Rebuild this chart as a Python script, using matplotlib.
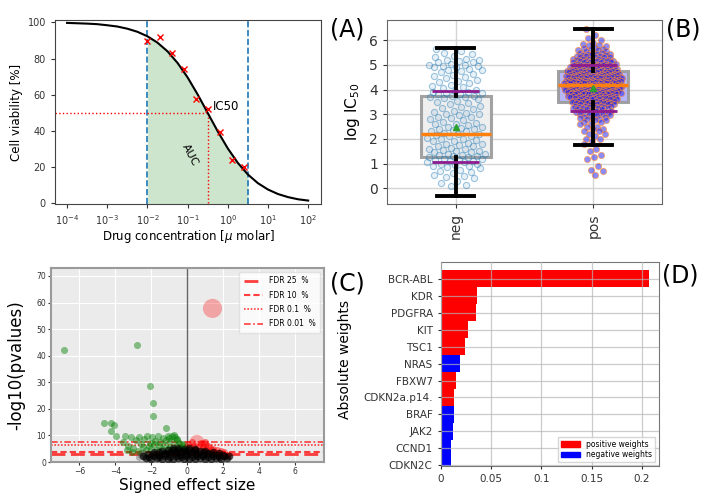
import numpy as np
import matplotlib
matplotlib.use("Agg")
import matplotlib.pyplot as plt
from matplotlib.lines import Line2D
from matplotlib.patches import Patch

# ---------------- Panel A data ----------------
conc_points = [0.01, 0.02, 0.04, 0.08, 0.16, 0.32, 0.64, 1.28, 2.56]
viability_points = [89.6, 92.0, 83.0, 74.5, 57.5, 52.0, 39.7, 23.8, 20.1]
curve_log_conc = [-4.0, -3.75, -3.5, -3.25, -3.0, -2.75, -2.5, -2.25, -2.0, -1.75,
                  -1.5, -1.25, -1.0, -0.75, -0.5, -0.25, 0.0, 0.25, 0.5, 0.75,
                  1.0, 1.25, 1.5, 1.75, 2.0]
curve_viability = [99.7, 99.5, 99.3, 99.0, 98.4, 97.7, 96.5, 94.8, 92.3, 88.8,
                   84.0, 77.6, 69.6, 60.2, 50.0, 39.8, 30.4, 22.4, 16.0, 11.2,
                   7.7, 5.2, 3.5, 2.3, 1.6]
ic50_conc = 10 ** -0.5
auc_bounds = [0.01, 10 ** 0.5]
xticks_A = [1e-4, 1e-3, 1e-2, 1e-1, 1e0, 1e1, 1e2]
xtick_labels_A = [r"$10^{-4}$", r"$10^{-3}$", r"$10^{-2}$", r"$10^{-1}$",
                  r"$10^{0}$", r"$10^{1}$", r"$10^{2}$"]

# ---------------- Panel B data ----------------
groups = ["neg", "pos"]
neg_values = [5.65, 5.55, 5.5, 5.45, 5.35, 5.3, 5.25, 5.2, 5.2, 5.15, 5.1, 5.1, 5.05,
              5.0, 5.0, 4.95, 4.95, 4.9, 4.9, 4.85, 4.8, 4.8, 4.75, 4.7, 4.65, 4.6,
              4.55, 4.5, 4.45, 4.4, 4.35, 4.3, 4.25, 4.2, 4.15, 4.1, 4.05, 4.0, 3.95,
              3.9, 3.9, 3.85, 3.85, 3.8, 3.8, 3.75, 3.75, 3.7, 3.7, 3.65, 3.6, 3.55,
              3.5, 3.45, 3.4, 3.35, 3.3, 3.25, 3.2, 3.15, 3.1, 3.05, 3.0, 3.0, 2.95,
              2.9, 2.9, 2.85, 2.8, 2.75, 2.7, 2.65, 2.6, 2.6, 2.55, 2.5, 2.5, 2.45,
              2.4, 2.4, 2.35, 2.3, 2.3, 2.25, 2.2, 2.2, 2.15, 2.1, 2.1, 2.05, 2.0,
              2.0, 1.95, 1.9, 1.9, 1.85, 1.8, 1.8, 1.75, 1.7, 1.7, 1.65, 1.6, 1.6,
              1.55, 1.5, 1.5, 1.45, 1.45, 1.4, 1.4, 1.35, 1.35, 1.3, 1.3, 1.25, 1.25,
              1.2, 1.2, 1.15, 1.15, 1.1, 1.1, 1.05, 1.05, 1.0, 1.0, 0.95, 0.9, 0.9,
              0.85, 0.8, 0.75, 0.7, 0.65, 0.6, 0.55, 0.5, 0.45, 0.4, 0.3, 0.2, 0.15, 0.1]
pos_value_counts = [(6.45, 1), (6.2, 1), (6.1, 1), (6.0, 1), (5.9, 1), (5.85, 1), (5.8, 2),
                    (5.75, 1), (5.7, 2), (5.65, 2), (5.6, 2), (5.55, 2), (5.5, 3), (5.45, 3),
                    (5.4, 3), (5.35, 3), (5.3, 4), (5.25, 4), (5.2, 4), (5.15, 5), (5.1, 5),
                    (5.05, 5), (5.0, 6), (4.95, 6), (4.9, 6), (4.85, 7), (4.8, 7), (4.75, 7),
                    (4.7, 8), (4.65, 8), (4.6, 8), (4.55, 9), (4.5, 9), (4.45, 9), (4.4, 10),
                    (4.35, 10), (4.3, 10), (4.25, 10), (4.2, 10), (4.15, 10), (4.1, 10),
                    (4.05, 9), (4.0, 9), (3.95, 9), (3.9, 8), (3.85, 8), (3.8, 8), (3.75, 7),
                    (3.7, 7), (3.65, 6), (3.6, 6), (3.55, 6), (3.5, 5), (3.45, 5), (3.4, 5),
                    (3.35, 4), (3.3, 4), (3.25, 4), (3.2, 4), (3.15, 3), (3.1, 3), (3.05, 3),
                    (3.0, 3), (2.95, 3), (2.9, 2), (2.85, 2), (2.8, 2), (2.75, 2), (2.7, 2),
                    (2.6, 2), (2.5, 2), (2.4, 2), (2.3, 2), (2.2, 2), (2.1, 1), (2.0, 2),
                    (1.9, 1), (1.8, 1), (1.6, 1), (1.5, 1), (1.35, 1), (1.25, 1), (1.2, 1),
                    (0.9, 1), (0.75, 1), (0.7, 1), (0.55, 1)]
box_q1 = [1.27, 3.50]
box_median = [2.18, 4.20]
box_q3 = [3.72, 4.75]
whisker_low = [-0.30, 1.75]
whisker_high = [5.70, 6.45]
group_mean = [2.50, 4.05]
sd_low = [1.05, 3.13]
sd_high = [3.93, 5.00]

# ---------------- Panel C data ----------------
green_x = [-6.88, -2.80, -2.05, -1.92, -1.92, -4.65, -4.25, -4.07, -4.25, -3.95, -1.20,
           -3.60, -3.45, -3.30, -3.15, -3.00, -2.85, -2.70, -2.55, -2.40, -2.25, -2.10, -1.95,
           -1.80, -1.65, -1.50, -1.35, -1.20, -1.05, -0.90, -0.75, -0.60, -0.45, -0.30, -0.15,
           -3.35, -3.05, -2.75, -2.45, -2.15, -1.85, -1.55, -1.25, -0.95, -0.65, -0.35, -0.10,
           -2.60, -2.30, -2.00, -1.70, -1.40, -1.10, -0.80, -0.50, -0.25,
           -1.00, -0.85, -0.70, -0.55]
green_y = [42.0, 44.0, 28.5, 22.1, 17.4, 14.5, 14.5, 13.9, 11.6, 9.7, 12.9,
           7.4, 9.6, 6.2, 9.5, 5.4, 8.2, 9.4, 6.8, 8.6, 9.7, 7.3, 9.3,
           8.0, 9.8, 7.6, 9.1, 8.4, 9.9, 7.8, 10.3, 8.8, 7.2, 6.4, 5.6,
           4.6, 3.6, 4.2, 5.6, 6.0, 6.6, 5.9, 6.3, 5.8, 6.0, 5.2, 4.4,
           3.2, 4.4, 4.8, 4.6, 4.9, 5.0, 4.9, 4.7, 6.8,
           8.9, 9.6, 9.4, 8.2]
red_x = [0.05, 0.15, 0.25, 0.35, 0.45, 0.65, 0.75, 0.85, 0.95, 1.05, 1.15, 1.25, 1.35, 1.45,
         1.55, 1.65, 1.75, 1.85, 1.95, 2.05, 2.15, 2.25, 0.30, 0.60, 0.90, 1.20, 1.50, 1.80,
         2.10, 1.00]
red_y = [6.8, 5.6, 7.4, 6.2, 5.0, 6.0, 7.2, 5.4, 6.6, 4.8, 6.0, 5.2, 4.4, 5.0,
         3.8, 4.6, 3.4, 4.0, 3.0, 3.6, 2.8, 2.6, 4.2, 4.0, 4.0, 3.8, 3.2, 2.8,
         2.2, 7.6]
red_big_x = [1.40, 0.54, 0.95]
red_big_y = [57.8, 7.5, 6.5]
black_x = [-2.30, -2.00, -1.70, -1.40, -1.10, -0.80, -0.50, -0.20, 0.10, 0.40, 0.70, 1.00, 1.30, 1.60, 1.90, 2.20,
           -2.45, -2.15, -1.85, -1.55, -1.25, -0.95, -0.65, -0.35, -0.05, 0.25, 0.55, 0.85, 1.15, 1.45, 1.75, 2.05, 2.30,
           -2.20, -1.90, -1.60, -1.30, -1.00, -0.70, -0.40, -0.10, 0.20, 0.50, 0.80, 1.10, 1.40, 1.70, 2.00,
           -1.85, -1.55, -1.25, -0.95, -0.65, -0.35, -0.05, 0.25, 0.55, 0.85, 1.15, 1.45, 1.75,
           -1.40, -1.10, -0.80, -0.50, -0.20, 0.10, 0.40, 0.70, 1.00,
           -0.80, -0.50, -0.20, 0.10, 0.40]
black_y = [1.5, 1.2, 1.4, 1.1, 1.3, 1.2, 1.5, 1.1, 1.3, 1.2, 1.4, 1.1, 1.3, 1.5, 1.2, 1.6,
           2.3, 2.0, 2.2, 1.9, 2.1, 2.0, 2.3, 1.9, 2.2, 2.0, 2.1, 2.3, 1.9, 2.1, 2.0, 2.2, 2.4,
           2.9, 3.1, 2.8, 3.0, 2.9, 3.2, 2.8, 3.1, 2.9, 3.0, 2.8, 3.1, 2.9, 2.7, 2.8,
           3.6, 3.8, 3.5, 3.9, 3.7, 3.6, 3.9, 3.7, 3.5, 3.8, 3.4, 3.6, 3.3,
           4.3, 4.5, 4.4, 4.6, 4.3, 4.5, 4.4, 4.2, 4.1,
           5.1, 5.3, 5.0, 5.2, 4.9]
gray_x = [-2.60, -2.45, -2.70, -2.35]
gray_y = [2.6, 3.4, 1.8, 1.6]
fdr_levels = ["25", "10", "0.1", "0.01"]
fdr_thresholds = [3.1, 3.8, 6.4, 7.6]

# ---------------- Panel D data ----------------
genes = ["BCR-ABL", "KDR", "PDGFRA", "KIT", "TSC1", "NRAS", "FBXW7", "CDKN2a.p14.",
         "BRAF", "JAK2", "CCND1", "CDKN2C"]
abs_weights = [0.207, 0.0354, 0.0352, 0.0268, 0.0235, 0.0185, 0.0152, 0.0132,
               0.0126, 0.0116, 0.0103, 0.0096]
weight_sign = ["+", "+", "+", "+", "+", "-", "+", "+", "-", "-", "-", "-"]

# =====================================================================
W, H = 703, 493
fig = plt.figure(figsize=(W / 100, H / 100), dpi=100)


def rect(l, t, r, b):
    return [l / W, 1 - b / H, (r - l) / W, (b - t) / H]


# ---------------- Panel A ----------------
axA = fig.add_axes(rect(55, 20, 321, 204))
axA.set_xscale("log")
lc = np.array(curve_log_conc)
cv = np.array(curve_viability)
m = (lc >= np.log10(auc_bounds[0]) - 1e-9) & (lc <= np.log10(auc_bounds[1]) + 1e-9)
axA.fill_between(10 ** lc[m], 0, cv[m], color="green", alpha=0.2, lw=0, zorder=1)
axA.plot(10 ** lc, cv, color="black", lw=1.5, zorder=3)
axA.plot(conc_points, viability_points, "x", color="red", ms=4, mew=1.0, zorder=4)
for xb in auc_bounds:
    axA.axvline(xb, color="#1f77b4", ls="--", lw=1.2, zorder=2)
xminA = 10 ** -4.3
axA.plot([xminA, ic50_conc], [50, 50], color="red", ls=":", lw=1.0, zorder=2)
axA.plot([ic50_conc, ic50_conc], [0, 50], color="red", ls=":", lw=1.0, zorder=2)
axA.text(10 ** -0.37, 53.5, "IC50", fontsize=8.5, va="center", ha="left")
axA.text(10 ** -0.94, 27, "AUC", fontsize=8, rotation=-62, ha="center", va="center")
axA.set_xlim(xminA, 10 ** 2.32)
axA.set_ylim(-0.3, 101.3)
axA.set_xticks(xticks_A)
axA.set_xticklabels(xtick_labels_A)
axA.minorticks_off()
axA.set_yticks([0, 20, 40, 60, 80, 100])
axA.tick_params(labelsize=7, colors="#333333", length=3)
for s in axA.spines.values():
    s.set_color("#444444")
axA.set_xlabel(r"Drug concentration [$\mu$ molar]", fontsize=8.5)
axA.set_ylabel("Cell viability [%]", fontsize=8.5)
axA.xaxis.set_label_coords(0.5, -0.13)
axA.yaxis.set_label_coords(-0.12, 0.5)

# ---------------- Panel B ----------------
axB = fig.add_axes(rect(387, 20, 662, 204))
axB.set_xlim(0.5, 2.5)
axB.set_ylim(-0.64, 6.82)
axB.grid(True, color="#d5d5d5", lw=1)
axB.set_axisbelow(True)

stats = []
for i, g in enumerate(groups):
    stats.append(dict(label=g, med=box_median[i], q1=box_q1[i], q3=box_q3[i],
                      whislo=whisker_low[i], whishi=whisker_high[i], mean=group_mean[i],
                      fliers=[]))
bp = axB.bxp(stats, positions=[1, 2], widths=0.51, patch_artist=True, showmeans=True,
             capwidths=0.27,
             boxprops=dict(edgecolor="#999999", lw=2.2),
             medianprops=dict(color="#ff7f0e", lw=2.5),
             whiskerprops=dict(color="black", lw=2.8),
             capprops=dict(color="black", lw=2.8),
             meanprops=dict(marker="^", markerfacecolor="#2ca02c",
                            markeredgecolor="#2ca02c", markersize=4))
box_faces = ["#eeeeee", "#b0b0ff"]
for patch, fc in zip(bp["boxes"], box_faces):
    patch.set_facecolor(fc)
    patch.set_alpha(0.9)
    patch.set_zorder(1)
for art in bp["medians"] + bp["whiskers"] + bp["caps"]:
    art.set_zorder(3)
for art in bp["means"]:
    art.set_zorder(4)


def jitter_x(vals, center, base, extra):
    vals = np.asarray(vals, dtype=float)
    dens = np.array([(np.abs(vals - v) < 0.25).sum() for v in vals], dtype=float)
    dens = dens / dens.max()
    width = base + extra * np.sqrt(dens)
    u = (np.arange(len(vals)) * 0.6180339887) % 1.0
    return center + (2 * u - 1) * width


neg_arr = np.array(neg_values)
pos_arr = np.array([v for v, c in pos_value_counts for _ in range(c)])
axB.scatter(jitter_x(neg_arr, 1, 0.07, 0.16), neg_arr, s=20,
            facecolor=(0.12, 0.47, 0.71, 0.10), edgecolor=(0.12, 0.47, 0.71, 0.42),
            lw=0.8, zorder=2)
axB.scatter(jitter_x(pos_arr, 2, 0.03, 0.19), pos_arr, s=20,
            facecolor=(0.1, 0.1, 0.95, 0.5), edgecolor=(1.0, 0.55, 0.2, 0.6),
            lw=0.7, zorder=2)
for i in range(2):
    axB.hlines([sd_low[i], sd_high[i]], i + 1 - 0.17, i + 1 + 0.17, color="#8e1c8e",
               lw=2, zorder=4)
axB.set_xticks([1, 2])
axB.set_xticklabels(groups, rotation=90)
axB.set_yticks(range(0, 7))
axB.tick_params(labelsize=10, colors="#333333", length=3)
for s in axB.spines.values():
    s.set_color("#666666")
axB.set_ylabel(r"log IC$_{50}$", fontsize=11)
axB.yaxis.set_label_coords(-0.09, 0.5)

# ---------------- Panel C ----------------
axC = fig.add_axes(rect(51, 268, 324, 462))
axC.set_facecolor("#ebebeb")
axC.grid(True, color="white", lw=0.8)
axC.set_axisbelow(True)
axC.axvline(0, color="#666666", lw=1, zorder=1)
fdr_styles = [dict(ls=(0, (5, 2)), lw=2.0), dict(ls=(0, (3, 1.5)), lw=1.5),
              dict(ls=(0, (1, 1)), lw=1.2), dict(ls=(0, (4, 1.5, 1, 1.5)), lw=1.2)]
handles = []
for lvl, thr, st in zip(fdr_levels, fdr_thresholds, fdr_styles):
    axC.axhline(thr, color="red", alpha=0.75, zorder=1.5, **st)
    handles.append(Line2D([], [], color="red", alpha=0.75, label=f"FDR {lvl}  %", **st))
axC.scatter(green_x, green_y, s=26, color="green", alpha=0.45, lw=0, zorder=2)
axC.scatter(red_x, red_y, s=26, color="red", alpha=0.45, lw=0, zorder=2)
axC.scatter(red_big_x, red_big_y, s=[190, 110, 50], color="red", alpha=0.3, lw=0, zorder=2)
axC.scatter(gray_x, gray_y, s=26, color="#555555", alpha=0.4, lw=0, zorder=2)
axC.scatter(black_x, black_y, s=30, color="black", alpha=0.65, lw=0, zorder=3)
axC.set_xlim(-7.58, 7.6)
axC.set_ylim(0, 73)
axC.set_xticks([-6, -4, -2, 0, 2, 4, 6])
axC.set_yticks(range(0, 71, 10))
axC.tick_params(labelsize=5.5, colors="#333333", length=2, pad=1.5)
for s in axC.spines.values():
    s.set_color("#9a9a9a")
    s.set_linewidth(1.5)
leg = axC.legend(handles=handles, loc="upper right", fontsize=5.5, handlelength=2.5,
                 frameon=True, fancybox=False, borderpad=0.6, labelspacing=0.7)
leg.get_frame().set_edgecolor("#dddddd")
axC.set_xlabel("Signed effect size", fontsize=11)
axC.set_ylabel("-log10(pvalues)", fontsize=12)
axC.xaxis.set_label_coords(0.5, -0.082)
axC.yaxis.set_label_coords(-0.093, 0.5)

# ---------------- Panel D ----------------
axD = fig.add_axes(rect(441, 262, 659, 466))
ypos = np.arange(len(genes))[::-1]
colors = ["red" if s == "+" else "blue" for s in weight_sign]
axD.barh(ypos, abs_weights, height=1.0, color=colors, lw=0, zorder=1)
axD.set_yticks(ypos)
axD.set_yticklabels(genes)
axD.set_ylim(-0.05, len(genes))
axD.set_xlim(0, 0.2172)
axD.set_xticks([0, 0.05, 0.1, 0.15, 0.2])
axD.set_xticklabels(["0", "0.05", "0.1", "0.15", "0.2"])
axD.grid(True, color="#b5b5b5", lw=0.9, alpha=0.7)
axD.set_axisbelow(False)
axD.tick_params(labelsize=7.5, colors="#333333", length=2.5)
for s in axD.spines.values():
    s.set_color("#777777")
legD = axD.legend(handles=[Patch(color="red", label="positive weights"),
                           Patch(color="blue", label="negative weights")],
                  loc="lower right", fontsize=5.5, handlelength=2.5, handleheight=0.8,
                  labelspacing=0.2, borderpad=0.4, fancybox=False)
legD.get_frame().set_edgecolor("#cccccc")
axD.set_ylabel("Absolute weights", fontsize=10, family=["Liberation Sans Narrow", "DejaVu Sans"])
axD.yaxis.set_label_coords(-0.41, 0.52)

# ---------------- Panel tags ----------------
for txt, x, y in [("(A)", 347, 30), ("(B)", 683, 30), ("(C)", 347, 283), ("(D)", 680, 275)]:
    fig.text(x / W, 1 - y / H, txt, fontsize=17, ha="center", va="center")

fig.savefig("out.png", dpi=100)
